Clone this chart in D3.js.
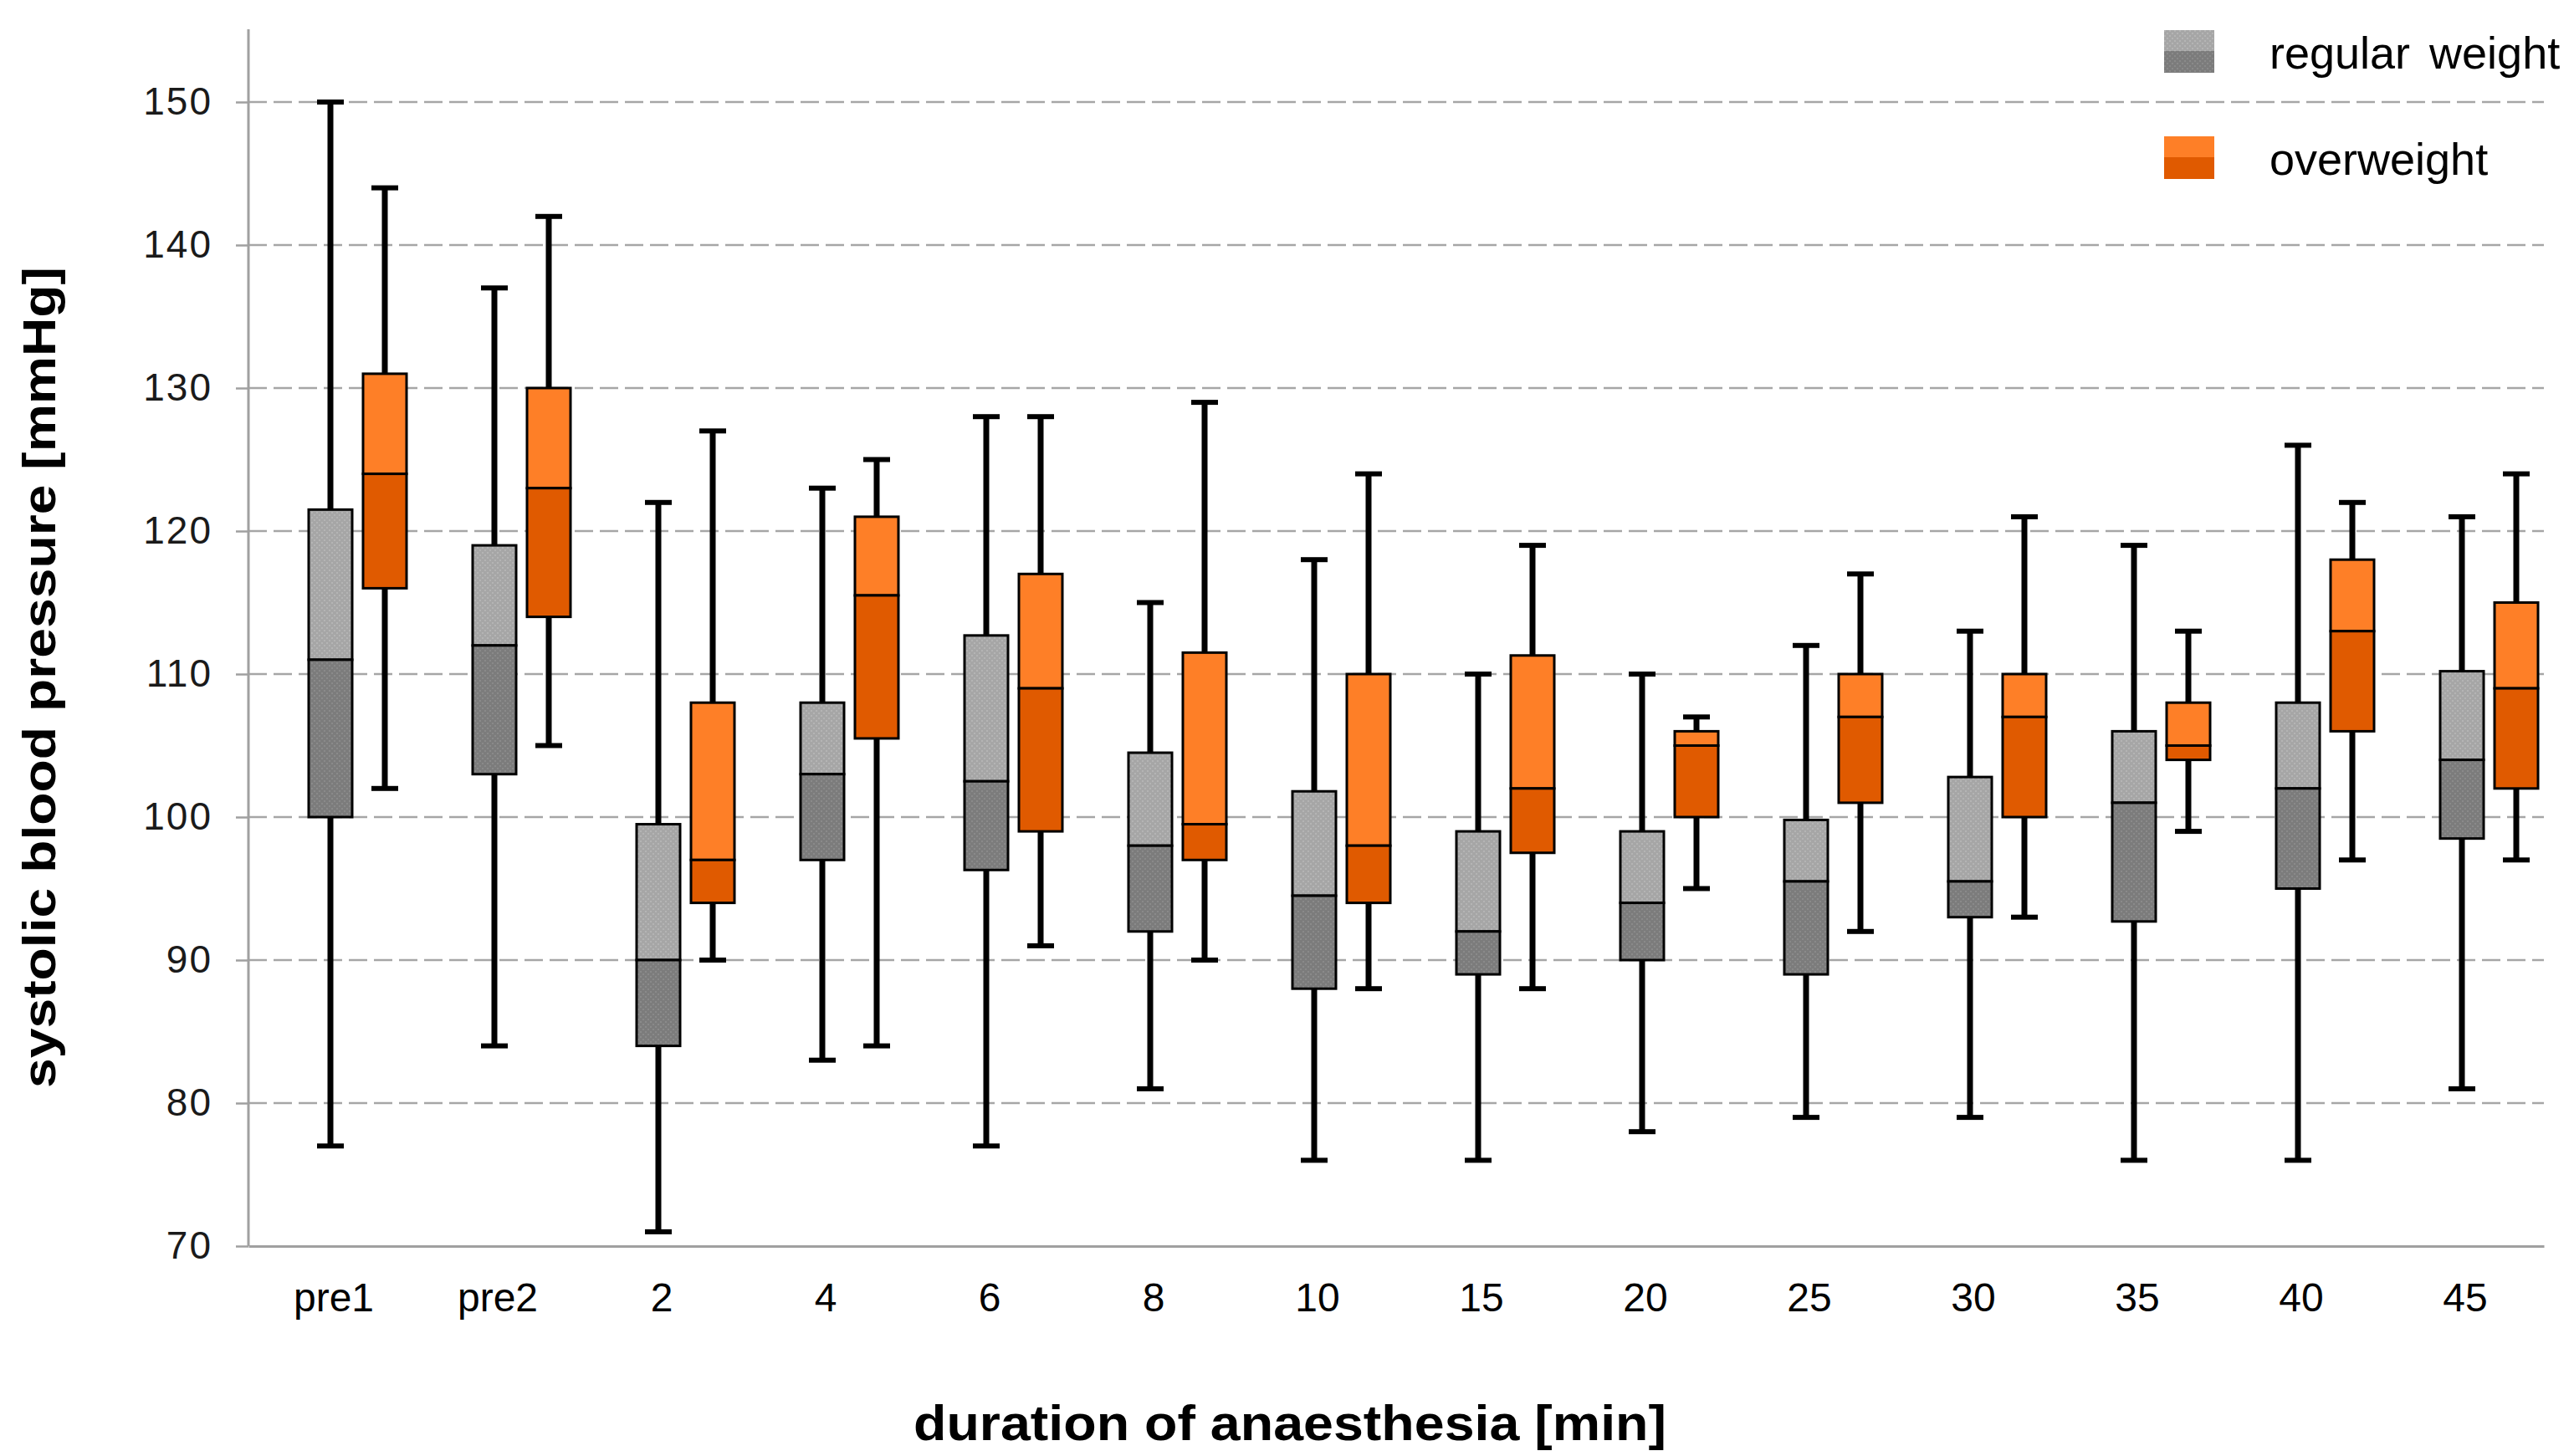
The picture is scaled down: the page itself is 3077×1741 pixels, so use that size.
<!DOCTYPE html>
<html>
<head>
<meta charset="utf-8">
<script src="https://cdn.jsdelivr.net/npm/d3@7"></script>
<style>
  body { margin: 0; background: #fff; }
  text { font-family: "Liberation Sans", Arial, sans-serif; }
</style>
</head>
<body>
<script>
// chart values
const categories = ['pre1', 'pre2', '2', '4', '6', '8', '10', '15', '20', '25', '30', '35', '40', '45'];

// regular weight: min, q1, median, q3, max
const regMin = [77, 84, 71, 83, 77, 81, 76, 76, 78, 79, 79, 76, 76, 81];
const regQ1 = [100, 103, 84, 97, 96.3, 92, 88, 89, 90, 89, 93, 92.7, 95, 98.5];
const regMed = [111, 112, 90, 103, 102.5, 98, 94.5, 92, 94, 95.5, 95.5, 101, 102, 104];
const regQ3 = [121.5, 119, 99.5, 108, 112.7, 104.5, 101.8, 99, 99, 99.8, 102.8, 106, 108, 110.2];
const regMax = [150, 137, 122, 123, 128, 115, 118, 110, 110, 112, 113, 119, 126, 121];

// overweight
const ovMin = [102, 105, 90, 84, 91, 90, 88, 88, 95, 92, 93, 99, 97, 97];
const ovQ1 = [116, 114, 94, 105.5, 99, 97, 94, 97.5, 100, 101, 100, 104, 106, 102];
const ovMed = [124, 123, 97, 115.5, 109, 99.5, 98, 102, 105, 107, 107, 105, 113, 109];
const ovQ3 = [131, 130, 108, 121, 117, 111.5, 110, 111.3, 106, 110, 110, 108, 118, 115];
const ovMax = [144, 142, 127, 125, 128, 129, 124, 119, 107, 117, 121, 113, 122, 124];

const yTicks = [70, 80, 90, 100, 110, 120, 130, 140, 150];

const width = 3077;
const height = 1741;
const plotLeft = 297, plotRight = 3041, plotTop = 35, plotBottom = 1490;

const svg = d3.select('body').append('svg')
    .attr('width', width)
    .attr('height', height);

// dithered grey fills
const defs = svg.append('defs');
function dither(id, base, dot) {
    const p = defs.append('pattern')
        .attr('id', id)
        .attr('width', 6).attr('height', 6)
        .attr('patternUnits', 'userSpaceOnUse');
    p.append('rect').attr('width', 6).attr('height', 6).attr('fill', base);
    p.append('rect').attr('x', 0).attr('y', 0).attr('width', 2).attr('height', 2).attr('fill', dot);
    p.append('rect').attr('x', 3).attr('y', 3).attr('width', 2).attr('height', 2).attr('fill', dot);
}
dither('greyLight', '#a6a6a6', '#b4b4b4');
dither('greyDark', '#7c7c7c', '#8a8a8a');

const series = [
    { name: 'regular weight', upper: 'url(#greyLight)', lower: 'url(#greyDark)', offset: 0,
      min: regMin, q1: regQ1, med: regMed, q3: regQ3, max: regMax },
    { name: 'overweight', upper: '#fe7f27', lower: '#e05a00', offset: 65,
      min: ovMin, q1: ovQ1, med: ovMed, q3: ovQ3, max: ovMax }
];

// scales
const x = d3.scaleBand()
    .domain(categories)
    .range([plotLeft, plotRight]);

const y = d3.scaleLinear()
    .domain([70, 150])
    .range([plotBottom, 122]);

// grid
svg.append('g')
    .selectAll('line')
    .data(yTicks.filter(d => d > 70))
    .enter()
    .append('line')
    .attr('x1', plotLeft)
    .attr('x2', plotRight)
    .attr('y1', d => y(d))
    .attr('y2', d => y(d))
    .attr('stroke', '#a6a6a6')
    .attr('stroke-width', 2.5)
    .attr('stroke-dasharray', '22,8');

// y axis
const yAxis = svg.append('g')
    .attr('transform', `translate(${plotLeft},0)`)
    .call(d3.axisLeft(y).tickValues(yTicks).tickSize(15).tickPadding(28));
yAxis.select('.domain').remove();
yAxis.selectAll('.tick line').attr('stroke', '#a0a0a0').attr('stroke-width', 2.5);
yAxis.selectAll('.tick text')
    .attr('fill', '#1a1a1a')
    .style('font-size', '46px')
    .style('letter-spacing', '2px')
    .style('font-family', '"Liberation Sans", Arial, sans-serif');
yAxis.append('line')
    .attr('x1', 0).attr('x2', 0)
    .attr('y1', plotTop).attr('y2', plotBottom)
    .attr('stroke', '#a0a0a0').attr('stroke-width', 3);

// x axis
const xAxis = svg.append('g')
    .attr('transform', `translate(0,${plotBottom})`)
    .call(d3.axisBottom(x).tickSize(0).tickPadding(44));
xAxis.select('.domain').attr('stroke', '#a0a0a0').attr('stroke-width', 3);
xAxis.selectAll('.tick text')
    .attr('fill', '#000')
    .attr('dx', 4)
    .style('font-size', '48px')
    .style('font-family', '"Liberation Sans", Arial, sans-serif');

// boxes
const boxW = 52, capW = 16;
series.forEach(s => {
    const g = svg.append('g');
    categories.forEach((c, i) => {
        const cx = x(c) + x.bandwidth() / 2 + s.offset;
        // whiskers
        g.append('line')
            .attr('x1', cx).attr('x2', cx)
            .attr('y1', y(s.max[i])).attr('y2', y(s.min[i]))
            .attr('stroke', '#000').attr('stroke-width', 7);
        [s.max[i], s.min[i]].forEach(v => {
            g.append('line')
                .attr('x1', cx - capW).attr('x2', cx + capW)
                .attr('y1', y(v)).attr('y2', y(v))
                .attr('stroke', '#000').attr('stroke-width', 6);
        });
        // upper and lower halves
        g.append('rect')
            .attr('x', cx - boxW / 2).attr('width', boxW)
            .attr('y', y(s.q3[i])).attr('height', y(s.med[i]) - y(s.q3[i]))
            .attr('fill', s.upper).attr('stroke', '#000').attr('stroke-width', 3);
        g.append('rect')
            .attr('x', cx - boxW / 2).attr('width', boxW)
            .attr('y', y(s.med[i])).attr('height', y(s.q1[i]) - y(s.med[i]))
            .attr('fill', s.lower).attr('stroke', '#000').attr('stroke-width', 3);
    });
});

// axis titles
svg.append('text')
    .attr('transform', 'translate(66, 810) rotate(-90)')
    .attr('text-anchor', 'middle')
    .attr('textLength', 982)
    .attr('lengthAdjust', 'spacingAndGlyphs')
    .style('font-size', '56px')
    .style('font-weight', 'bold')
    .text('systolic blood pressure [mmHg]');

svg.append('text')
    .attr('x', 1542)
    .attr('y', 1722)
    .attr('text-anchor', 'middle')
    .attr('textLength', 900)
    .attr('lengthAdjust', 'spacingAndGlyphs')
    .style('font-size', '60px')
    .style('font-weight', 'bold')
    .text('duration of anaesthesia [min]');

// legend
const legend = svg.append('g').attr('transform', 'translate(2587,36)');
series.forEach((s, i) => {
    const ly = i * 127;
    legend.append('rect').attr('x', 0).attr('y', ly).attr('width', 60).attr('height', 25).attr('fill', s.upper);
    legend.append('rect').attr('x', 0).attr('y', ly + 25).attr('width', 60).attr('height', 26).attr('fill', s.lower);
    legend.append('text')
        .attr('x', 126)
        .attr('y', ly + 46)
        .style('font-size', '54px')
        .style('word-spacing', '8px')
        .text(s.name);
});
</script>
</body>
</html>
